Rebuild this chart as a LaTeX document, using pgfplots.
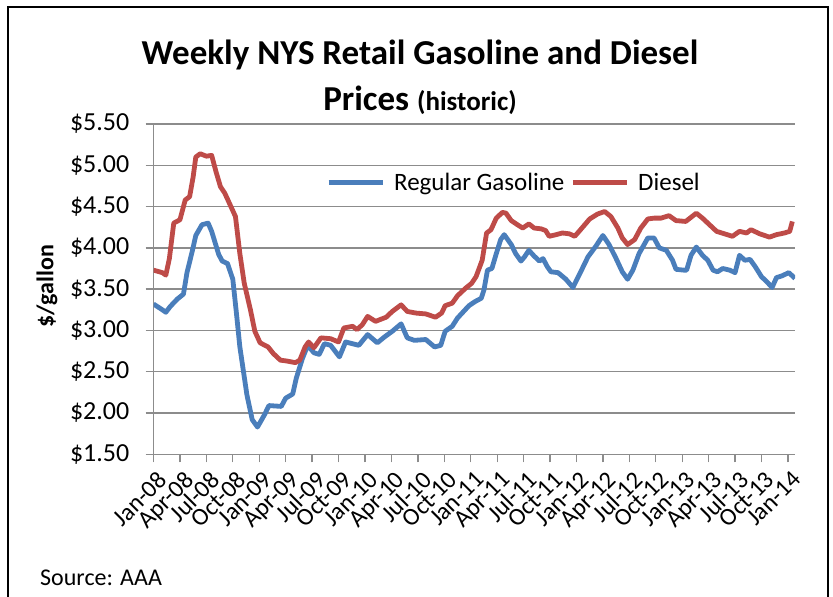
\documentclass[border=0pt]{standalone}
\usepackage{fontspec}
\setmainfont{Carlito}
\usepackage{pgfplots}
\pgfplotsset{compat=1.18}
\definecolor{gasblue}{HTML}{4A7EBB}
\definecolor{dieselred}{HTML}{BE4B48}
\definecolor{gridgray}{HTML}{8C8C8C}
\begin{document}
\begin{tikzpicture}
\useasboundingbox (0pt,0pt) rectangle (833pt,597pt);
\draw[line width=2pt] (8pt,590pt) rectangle (828pt,-20pt);
\node[anchor=base, font=\fontsize{35}{42}\selectfont\bfseries] at (420pt,532pt) {Weekly NYS Retail Gasoline and Diesel};
\node[anchor=base, font=\fontsize{35}{42}\selectfont\bfseries] at (420pt,486pt) {Prices {\fontsize{27}{32}\selectfont(historic)}};
\node[anchor=base west, inner sep=0pt, font=\fontsize{24}{29}\selectfont] at (40pt,11pt) {Source: AAA};
\begin{axis}[
  at={(153.5pt,142.7pt)}, anchor=south west,
  width=641.5pt, height=330.3pt, scale only axis,
  xmin=0, xmax=72.8, ymin=1.5, ymax=5.5,
  axis lines*=left,
  axis line style={gridgray, line width=1.3pt},
  xtick={0,3,...,72},
  xticklabels={Jan-08,Apr-08,Jul-08,Oct-08,Jan-09,Apr-09,Jul-09,Oct-09,Jan-10,Apr-10,Jul-10,Oct-10,Jan-11,Apr-11,Jul-11,Oct-11,Jan-12,Apr-12,Jul-12,Oct-12,Jan-13,Apr-13,Jul-13,Oct-13,Jan-14},
  ytick={1.5,2,2.5,3,3.5,4,4.5,5,5.5},
  yticklabels={\$1.50,\$2.00,\$2.50,\$3.00,\$3.50,\$4.00,\$4.50,\$5.00,\$5.50},
  ymajorgrids,
  major grid style={gridgray, line width=1.3pt},
  tick style={gridgray, line width=1.3pt},
  major tick length=8pt, tick align=outside,
  every tick label/.append style={font=\fontsize{26}{31}\selectfont},
  xticklabel style={font=\fontsize{24.5}{29}\selectfont, xshift=3pt, yshift=-6pt, rotate=45, anchor=north east, inner sep=1pt},
  yticklabel style={xshift=-14pt, inner sep=2pt},
  ylabel={\$/gallon},
  ylabel style={font=\fontsize{24}{29}\selectfont\bfseries, at={(axis description cs:-0.166,0.5095)}, anchor=center},
  legend columns=2,
  legend style={at={(axis description cs:0.562,0.824)}, anchor=center, draw=none, fill=none,
    font=\fontsize{25}{30}\selectfont,
    /tikz/every odd column/.append style={column sep=7pt},
    /tikz/every even column/.append style={column sep=4pt}},
  legend image code/.code={\draw[#1] (0pt,0pt) -- (54pt,0pt);},
  every axis plot/.append style={line width=4.8pt, line join=round, no markers},
]
\addplot[gasblue] table {
x y
0 3.32
1.0 3.25
1.4 3.22
1.9 3.29
2.7 3.38
3.4 3.44
3.8 3.70
4.4 3.96
4.8 4.15
5.5 4.28
6.2 4.30
6.6 4.20
7.4 3.92
7.8 3.84
8.4 3.81
9.0 3.62
9.4 3.22
9.8 2.80
10.6 2.22
11.2 1.92
11.8 1.83
12.6 1.98
13.1 2.09
14.5 2.08
15.0 2.18
15.8 2.23
16.2 2.42
16.9 2.66
17.5 2.82
18.2 2.73
18.8 2.71
19.4 2.84
20.1 2.82
21.1 2.68
21.8 2.86
23.3 2.82
24.3 2.95
25.4 2.85
26.2 2.92
27.1 2.99
28.1 3.08
28.8 2.91
29.6 2.88
30.9 2.89
31.9 2.80
32.6 2.82
33.1 2.99
33.9 3.05
34.5 3.15
35.8 3.30
36.5 3.35
37.2 3.39
37.5 3.49
37.9 3.73
38.4 3.75
38.9 3.93
39.4 4.10
39.8 4.16
40.6 4.04
41.1 3.93
41.7 3.84
42.1 3.89
42.6 3.97
43.2 3.90
43.8 3.84
44.2 3.87
44.7 3.77
45.1 3.71
45.9 3.70
46.8 3.62
47.6 3.52
48.3 3.67
49.3 3.89
50.2 4.02
51.0 4.15
51.7 4.04
52.5 3.87
53.2 3.71
53.8 3.62
54.4 3.73
55.1 3.93
56.1 4.12
56.8 4.12
57.4 4.00
58.2 3.97
58.9 3.85
59.3 3.74
60.2 3.73
60.5 3.73
61.0 3.91
61.6 4.01
62.3 3.91
62.9 3.85
63.5 3.73
64.0 3.71
64.6 3.75
65.4 3.73
66.0 3.70
66.5 3.91
67.1 3.85
67.7 3.86
68.3 3.77
69.0 3.65
69.6 3.59
70.2 3.52
70.7 3.64
71.3 3.66
72.1 3.70
72.8 3.63
};
\addlegendentry{Regular Gasoline}
\addplot[dieselred] table {
x y
0 3.73
1.0 3.70
1.4 3.67
1.8 3.87
2.3 4.30
3.0 4.34
3.6 4.58
4.1 4.62
4.5 4.86
4.8 5.10
5.3 5.14
6.0 5.11
6.6 5.12
7.1 4.92
7.6 4.74
8.1 4.66
8.7 4.52
9.3 4.38
9.8 3.93
10.3 3.57
11.0 3.25
11.5 2.99
12.1 2.85
13.0 2.80
13.6 2.72
14.4 2.64
15.1 2.63
16.1 2.61
16.6 2.64
17.2 2.80
17.6 2.86
18.2 2.79
19.0 2.91
20.1 2.90
21.0 2.86
21.6 3.03
22.6 3.05
23.1 3.01
23.7 3.07
24.3 3.17
25.2 3.11
26.4 3.16
27.1 3.23
28.1 3.31
28.8 3.23
29.8 3.21
30.9 3.20
32.0 3.16
32.7 3.21
33.1 3.30
33.9 3.33
34.5 3.42
35.4 3.51
36.1 3.57
36.6 3.65
37.3 3.85
37.8 4.18
38.3 4.22
38.9 4.36
39.6 4.43
40.0 4.42
40.6 4.33
41.3 4.28
41.9 4.24
42.6 4.29
43.2 4.24
44.0 4.23
44.5 4.21
44.9 4.14
45.7 4.16
46.4 4.18
47.2 4.17
47.8 4.14
48.3 4.20
49.5 4.35
50.4 4.41
51.2 4.44
51.9 4.38
52.7 4.24
53.2 4.12
53.8 4.04
54.6 4.10
55.3 4.24
56.1 4.35
56.8 4.36
57.6 4.36
58.5 4.39
59.3 4.33
60.4 4.32
61.6 4.42
62.3 4.36
63.1 4.28
63.9 4.20
64.8 4.17
65.7 4.14
66.5 4.20
67.3 4.18
67.8 4.22
68.8 4.17
69.9 4.13
70.7 4.16
71.6 4.18
72.2 4.20
72.5 4.32
};
\addlegendentry{Diesel}
\end{axis}
\end{tikzpicture}
\end{document}
